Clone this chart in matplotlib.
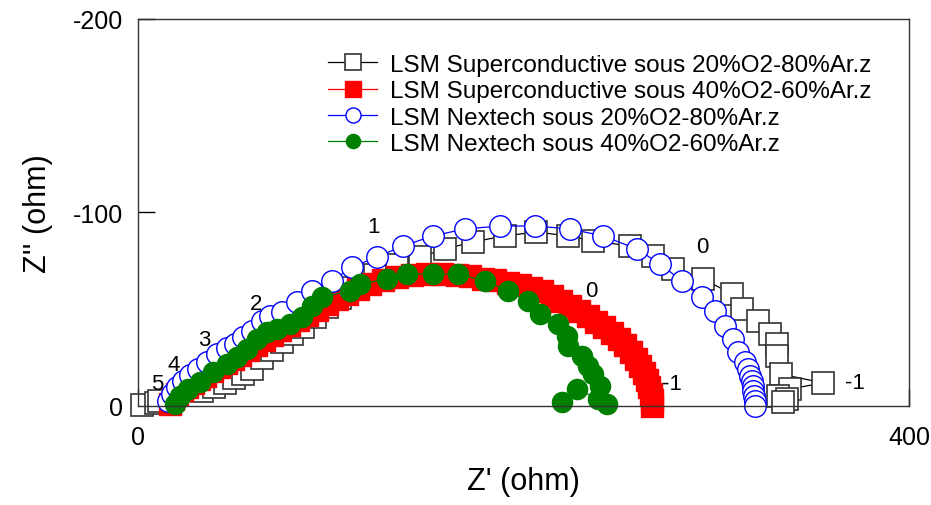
import numpy as np
import matplotlib
matplotlib.use("Agg")
import matplotlib.pyplot as plt

plt.rcParams['font.family'] = ['Liberation Sans', 'DejaVu Sans']
plt.rcParams['axes.unicode_minus'] = False

# Nyquist data, Z' (ohm) and Z'' (ohm)
sc20_re = [2.1, 9.3, 10.9, 33.2, 39.4, 45.1, 49.8, 54.5, 59.1, 64.3, 69.5, 74.7, 79.9, 85.6,
           91.8, 98.1, 104.8, 111.0, 117.8, 123.0, 134.4, 146.3, 159.3, 173.8, 190.4, 206.5,
           223.1, 236.1, 255.3, 267.2, 277.6, 293.1, 308.2, 313.4, 321.7, 327.9, 331.5, 331.5,
           333.6, 355.4, 338.3, 332.0, 336.7, 334.6]
sc20_im = [-0.5, -1.6, -2.6, -7.8, -9.8, -11.9, -14.5, -16.5, -19.1, -25.0, -29.0, -33.0, -37.0,
           -41.0, -46.0, -51.0, -56.0, -61.0, -65.6, -67.7, -72.9, -77.0, -81.1, -84.8, -87.9,
           -89.9, -87.9, -85.3, -82.7, -77.5, -70.8, -65.6, -57.9, -50.1, -43.9, -37.2, -32.0,
           -25.8, -16.5, -11.9, -8.8, -5.2, -3.6, -2.1]

sc40_re = [16.6, 18.2, 20.2, 22.8, 25.4, 28.5, 31.6, 34.8, 38.4, 42.0, 45.7, 49.3, 52.9, 57.1,
           61.2, 65.4, 69.5, 73.7, 78.3, 83.0, 87.7, 92.9, 98.1, 103.2, 108.4, 114.1, 120.4,
           127.1, 134.4, 142.2, 149.9, 157.7, 165.5, 172.2, 179.0, 185.2, 192.0, 198.2, 203.9,
           209.6, 214.8, 219.5, 224.1, 228.8, 233.5, 237.6, 241.8, 245.9, 249.5, 252.7, 255.8,
           258.4, 260.4, 262.5, 264.1, 265.1, 266.1, 266.7, 266.7]
sc40_im = [-1.0, -3.6, -6.2, -8.3, -9.8, -11.9, -14.0, -15.5, -18.1, -20.2, -22.2, -24.3, -26.4,
           -28.9, -31.5, -34.1, -36.7, -39.3, -41.9, -44.4, -47.0, -49.6, -52.7, -55.3, -57.9,
           -60.5, -63.0, -65.1, -66.7, -67.7, -68.2, -68.2, -67.7, -67.2, -65.6, -65.1, -63.6,
           -62.5, -61.0, -59.4, -56.8, -54.3, -51.7, -49.1, -46.5, -43.4, -40.8, -37.7, -34.6,
           -31.5, -27.9, -24.3, -20.7, -17.1, -13.4, -9.8, -6.2, -3.1, 0.0]

nx20_re = [15.6, 17.6, 20.2, 23.3, 27.0, 31.1, 35.8, 41.0, 46.2, 50.3, 54.5, 59.1, 64.3, 68.5,
           74.7, 82.5, 90.3, 100.6, 111.0, 124.0, 137.5, 153.0, 169.6, 187.8, 206.0, 224.1,
           241.2, 258.9, 270.8, 282.2, 292.6, 299.4, 304.5, 308.7, 311.3, 314.9, 316.5, 317.5,
           318.5, 319.1, 319.1, 319.6, 320.1, 320.1]
nx20_im = [-2.6, -6.2, -9.8, -12.9, -16.0, -19.1, -22.7, -26.9, -30.0, -32.0, -35.7, -38.8,
           -43.9, -46.5, -48.6, -53.7, -59.4, -64.6, -71.8, -77.0, -82.7, -87.9, -91.5, -93.0,
           -93.0, -91.5, -87.9, -81.1, -73.4, -64.6, -56.3, -49.1, -41.3, -34.6, -27.9, -22.7,
           -19.1, -15.5, -12.9, -10.3, -7.8, -5.2, -2.6, 0.0]

nx40_re = [19.2, 21.8, 25.9, 32.2, 38.9, 46.2, 51.4, 56.5, 61.7, 66.9, 72.1, 78.9, 85.1, 90.3,
           95.5, 110.0, 115.2, 129.2, 139.6, 153.0, 166.0, 180.0, 192.0, 202.3, 208.6, 217.9,
           222.6, 223.1, 230.4, 233.5, 236.1, 239.7, 243.3, 238.6, 227.8, 220.0]
nx40_im = [-1.0, -5.2, -8.8, -12.4, -17.6, -21.7, -25.3, -29.5, -34.6, -38.2, -39.8, -42.4,
           -46.0, -51.7, -56.3, -59.4, -63.0, -65.6, -68.2, -68.2, -68.2, -64.6, -59.4, -54.3,
           -47.5, -42.4, -36.2, -31.0, -25.8, -20.7, -16.5, -10.3, -1.0, -3.6, -8.8, -2.1]

labels = ["LSM Superconductive sous 20%O2-80%Ar.z",
          "LSM Superconductive sous 40%O2-60%Ar.z",
          "LSM Nextech sous 20%O2-80%Ar.z",
          "LSM Nextech sous 40%O2-60%Ar.z"]

# log(frequency) decade marks
dec_text = ["5", "4", "3", "2", "1", "0", "0", "-1", "-1"]
dec_x = [9.9, 18.7, 34.2, 61.2, 122.4, 235.0, 292.6, 277.1, 372.0]
dec_y = [-11.4, -21.2, -34.1, -53.2, -92.5, -59.9, -82.2, -11.4, -11.9]

fig = plt.figure(figsize=(9.31, 5.06), dpi=100)
ax = fig.add_axes([0.1482, 0.1957, 0.8282, 0.7648])

ms = 15.5
ax.plot(sc20_re, sc20_im, '-', color='black', lw=0.9, marker='s', ms=ms,
        mfc='white', mec='#333333', mew=1.2, clip_on=False, label=labels[0])
ax.plot(sc40_re, sc40_im, '-', color='red', lw=0.9, marker='s', ms=ms,
        mfc='red', mec='red', mew=1.0, clip_on=False, label=labels[1])
ax.plot(nx20_re, nx20_im, '-', color='blue', lw=0.9, marker='o', ms=ms,
        mfc='white', mec='blue', mew=1.0, clip_on=False, label=labels[2])
ax.plot(nx40_re, nx40_im, '-', color='green', lw=0.9, marker='o', ms=14.5,
        mfc='green', mec='green', mew=1.0, clip_on=False, label=labels[3])

for t, x, y in zip(dec_text, dec_x, dec_y):
    ax.text(x, y, t, fontsize=16, ha='center', va='center')

ax.set_xlim(0, 400)
ax.set_ylim(0, -200)
ax.set_xticks([0, 400])
ax.set_yticks([0, -100, -200])
ax.tick_params(direction='in', length=12, width=1, labelsize=18)
ax.tick_params(axis='x', pad=14)
ax.tick_params(axis='y', pad=11)
for s in ax.spines.values():
    s.set_linewidth(1.0)
    s.set_color('#333333')

ax.set_xlabel("Z' (ohm)", fontsize=22, labelpad=12)
ax.set_ylabel("Z'' (ohm)", fontsize=22, labelpad=14)

ax.legend(loc='upper left', bbox_to_anchor=(0.247, 0.91), frameon=False, fontsize=17.5,
          handlelength=2.0, handletextpad=0.55, labelspacing=0.18, markerscale=0.7,
          borderpad=0, borderaxespad=0)

fig.savefig("out.png", dpi=100)
